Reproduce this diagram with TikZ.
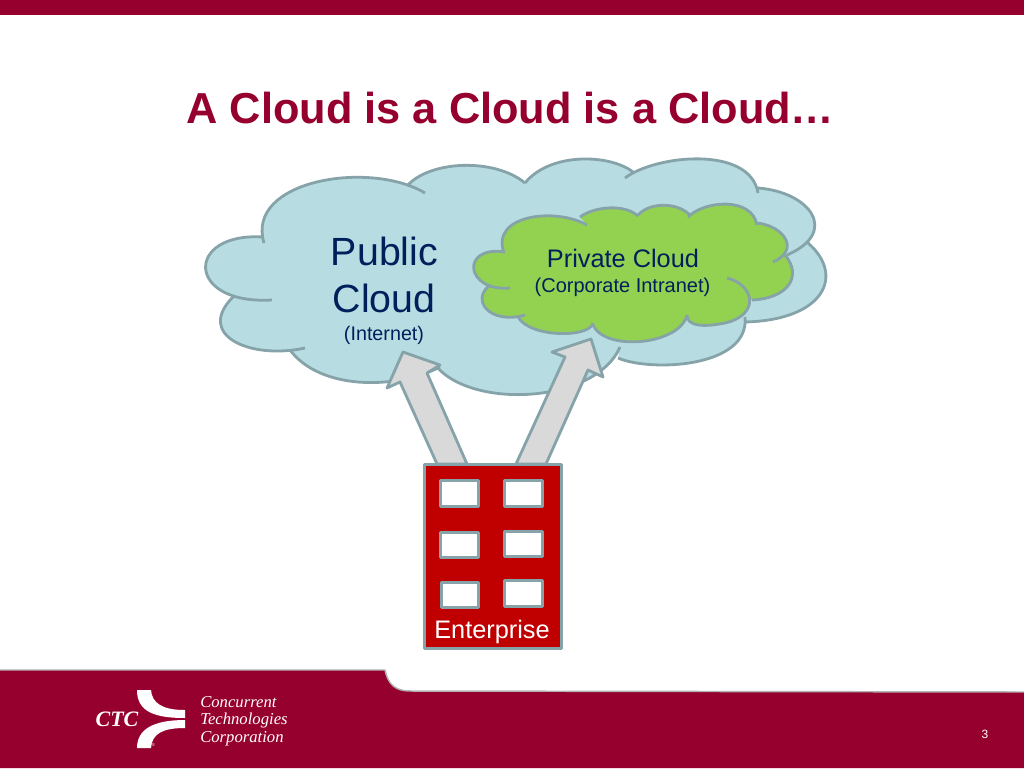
\documentclass[tikz,border=0pt]{standalone}
\usepackage{fontspec}
\setmainfont{Liberation Sans}
\newfontfamily\serifface{Liberation Serif}
\definecolor{crimson}{HTML}{96002E}
\definecolor{skyfill}{HTML}{B7DDE3}
\definecolor{greenfill}{HTML}{93D150}
\definecolor{edgeline}{HTML}{85A3A8}
\definecolor{navy}{HTML}{00205C}
\definecolor{brick}{HTML}{C00000}

% lobes of the two clouds, #1 joins them up for the fill
\newcommand{\publiclobes}[1]{(264,243) .. controls (245,180) and (370,160) .. (425,193)
  #1 (407,186) .. controls (430,160) and (495,158) .. (525,183)
  #1 (525,183) .. controls (550,152) and (610,154) .. (633,172)
  #1 (625,178) .. controls (655,155) and (750,145) .. (758,193)
  #1 (758,188) .. controls (810,192) and (840,232) .. (787,255)
  #1 (808,243) .. controls (845,275) and (825,320) .. (745,322)
  #1 (745,317) .. controls (750,368) and (650,372) .. (618,358)
  #1 (620,347) .. controls (595,405) and (465,410) .. (433,362)
  #1 (440,367) .. controls (395,390) and (320,390) .. (290,350)
  #1 (305,348) .. controls (250,360) and (195,335) .. (233,297)
  #1 (272,300) .. controls (185,305) and (185,232) .. (263,237)}
\newcommand{\privatelobes}[1]{(504,253) .. controls (490,215) and (555,207) .. (587,225)
  #1 (580,217) .. controls (595,206) and (625,204) .. (638,216)
  #1 (638,215) .. controls (650,202) and (677,202) .. (690,215)
  #1 (688,217) .. controls (705,200) and (752,197) .. (757,225)
  #1 (758,223) .. controls (785,227) and (800,250) .. (773,262)
  #1 (785,255) .. controls (802,275) and (790,298) .. (752,300)
  #1 (727,278) .. controls (755,285) and (760,315) .. (725,323) .. controls (705,327) and (687,327) .. (687,315)
  #1 (687,315) .. controls (680,345) and (605,352) .. (593,325)
  #1 (593,323) .. controls (590,338) and (530,338) .. (518,317)
  #1 (525,315) .. controls (490,325) and (470,300) .. (490,285)
  #1 (510,288) .. controls (465,292) and (460,245) .. (505,252)}

\begin{document}
\begin{tikzpicture}[x=0.75pt,y=-0.75pt,
    outline/.style={draw=edgeline,line width=2.1pt,line join=round},
    label/.style={anchor=base,inner sep=0pt}]
    \tikzset{window/.style={outline,fill=white,minimum width=28pt,minimum height=19pt,inner sep=0pt}}
    \tikzset{blockarrow/.style={outline,fill=gray!30}}
    \tikzset{footertext/.style={anchor=base west,inner sep=0pt,text=white,font=\serifface\itshape\fontsize{12.5}{15}\selectfont}}

    \useasboundingbox (0,0) rectangle (1024,768);

    % slide frame
    \fill[crimson] (0,0) rectangle (1024,15);
    \fill[crimson] (0,670) -- (385,670) .. controls (388,684) and (395,691) .. (410,691) -- (1024,692) -- (1024,768) -- (0,768) -- cycle;
    \draw[gray!60,line width=1.1pt] (0,670) -- (385,670) .. controls (388,684) and (395,691) .. (410,691) -- (1024,692);
    \node[label,text=crimson,font=\bfseries\fontsize{32.5}{40}\selectfont] (title) at (510.5,123) {A Cloud is a Cloud is a Cloud…};

    % clouds
    \fill[skyfill] \publiclobes{--} -- cycle;
    \draw[outline] \publiclobes{};
    \fill[greenfill] \privatelobes{--} -- cycle;
    \draw[outline] \privatelobes{};

    \node[label,text=navy,font=\fontsize{29.5}{35}\selectfont] (public) at (384.5,265) {Public};
    \node[label,text=navy,font=\fontsize{29.5}{35}\selectfont] (publiccloud) at (384,312.5) {Cloud};
    \node[label,text=navy,font=\fontsize{14.8}{18}\selectfont] (internet) at (384,340) {(Internet)};
    \node[label,text=navy,font=\fontsize{19}{23}\selectfont] (private) at (623,267) {Private Cloud};
    \node[label,text=navy,font=\fontsize{15}{18}\selectfont] (intranet) at (622.5,292.5) {(Corporate Intranet)};

    % arrows up from the building
    \draw[blockarrow] (437,464) -- (400,382) -- (387,388) -- (403,352) -- (440,365) -- (427,373) -- (467,464) -- cycle;
    \draw[blockarrow] (516,464) -- (565,357) -- (552,352) -- (591,339) -- (603,377) -- (588,370) -- (546,464) -- cycle;

    % building
    \node[outline,fill=brick,minimum width=103pt,minimum height=138.5pt,inner sep=0pt] (building) at (493,556.5) {};
    \node[window] (win1) at (459.5,493.5) {};
    \node[window] (win2) at (523.5,493.5) {};
    \node[window] (win3) at (459.5,545) {};
    \node[window] (win4) at (523.5,544) {};
    \node[window] (win5) at (460,595) {};
    \node[window] (win6) at (523.5,593.5) {};
    \node[label,text=white,font=\fontsize{19}{23}\selectfont] (enterprise) at (492,638) {Enterprise};

    % logo
    \fill[white] (137,690) -- (151,690) .. controls (152,703) and (162,710) .. (185,710) -- (185,718) .. controls (155,718) and (137,712) .. (137,690) -- cycle;
    \fill[white] (185,720) -- (185,728) .. controls (162,728) and (152,734) .. (151,748) -- (137,748) .. controls (137,730) and (152,720) .. (185,720) -- cycle;
    \node[anchor=base,inner sep=0pt,text=white,font=\serifface\bfseries\itshape\fontsize{16.5}{18}\selectfont] (ctc) at (117,726) {CTC};
    \node[anchor=center,inner sep=0pt,text=white,font=\serifface\fontsize{3.5}{4}\selectfont] (mark) at (153.5,745) {®};
    \node[footertext] (concurrent) at (200,707) {Concurrent};
    \node[footertext] (technologies) at (200,724) {Technologies};
    \node[footertext] (corporation) at (200,742) {Corporation};
    \node[label,text=white,font=\fontsize{9}{11}\selectfont] (pagenum) at (985,738) {3};
\end{tikzpicture}
\end{document}
